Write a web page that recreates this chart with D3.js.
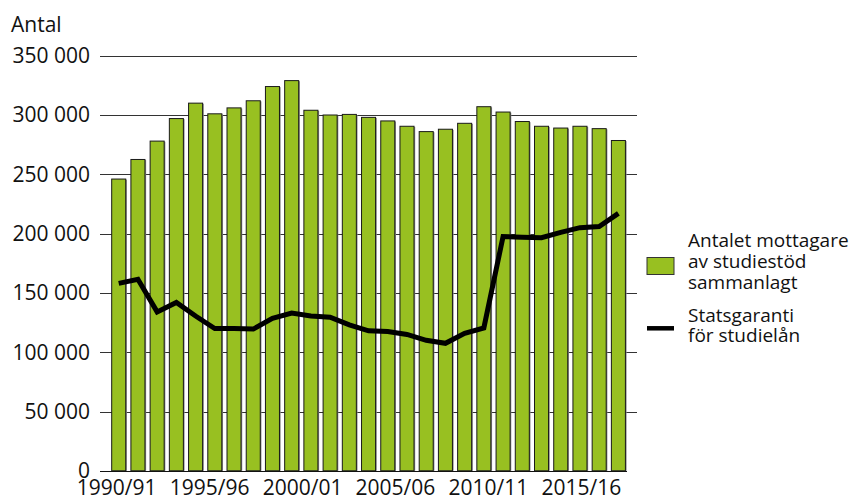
<!DOCTYPE html>
<html>
<head>
<meta charset="utf-8">
<script src="https://cdn.jsdelivr.net/npm/d3@7"></script>
<style>
  body { margin: 0; background: #fff; }
  svg { display: block; }
  text { font-family: "Open Sans", "Noto Sans", sans-serif; fill: #111; }
</style>
</head>
<body>
<svg id="chart" width="862" height="500"></svg>
<script>
// ---- Data ----
const categories = [
  "1990/91","1991/92","1992/93","1993/94","1994/95","1995/96","1996/97","1997/98","1998/99","1999/00",
  "2000/01","2001/02","2002/03","2003/04","2004/05","2005/06","2006/07","2007/08","2008/09","2009/10",
  "2010/11","2011/12","2012/13","2013/14","2014/15","2015/16","2016/17"
];
const totalRecipients = [
  246000, 262500, 278000, 297000, 310000, 301000, 306000, 312000, 324000, 329000,
  304000, 300000, 300500, 298000, 295000, 290500, 286000, 288000, 293000, 307000,
  302500, 294500, 290500, 289000, 290500, 288500, 278500
];
const stateGuarantee = [
  158000, 161500, 134000, 142000, 130500, 120000, 120000, 119500, 128500, 133000,
  130500, 129500, 123000, 118000, 117500, 115000, 110000, 107500, 116000, 120500,
  197500, 197000, 196500, 201000, 205000, 206000, 217000
];
const yTicks = [0, 50000, 100000, 150000, 200000, 250000, 300000, 350000];
const xTickLabels = ["1990/91", "1995/96", "2000/01", "2005/06", "2010/11", "2015/16"];
const legendBarLabel = ["Antalet mottagare", "av studiestöd", "sammanlagt"];
const legendLineLabel = ["Statsgaranti", "för studielån"];
const yTitle = "Antal";

// ---- Layout ----
const svg = d3.select("#chart");
const green = "#98c021";

const x = d3.scaleBand()
  .domain(categories)
  .range([109.1, 628.0])
  .paddingInner(0.27)
  .paddingOuter(0.135);

const y = d3.scaleLinear()
  .domain([0, 350000])
  .range([470.8, 55.7]);

// x tick labels are laid out on their own even spacing in the original
const xLabelPos = d3.scalePoint()
  .domain(xTickLabels)
  .range([116.7, 581.3]);

const fmt = v => d3.format(",")(v).replace(/,/g, " ");

// gridlines
svg.append("g")
  .selectAll("line")
  .data(yTicks.filter(d => d > 0))
  .join("line")
  .attr("x1", 100).attr("x2", 637)
  .attr("y1", d => Math.round(y(d)) + 0.5)
  .attr("y2", d => Math.round(y(d)) + 0.5)
  .attr("stroke", "#333")
  .attr("stroke-width", 1);

// baseline
svg.append("line")
  .attr("x1", 100).attr("x2", 627)
  .attr("y1", Math.round(y(0)) + 0.5).attr("y2", Math.round(y(0)) + 0.5)
  .attr("stroke", "#111").attr("stroke-width", 1.2);

// y labels
svg.append("g")
  .selectAll("text")
  .data(yTicks)
  .join("text")
  .attr("x", 90)
  .attr("y", d => y(d))
  .attr("dy", "0.35em")
  .attr("text-anchor", "end")
  .style("font-size", "21px")
  .text(d => fmt(d));

// y title
svg.append("text")
  .attr("x", 11).attr("y", 32)
  .style("font-size", "21px")
  .text(yTitle);

// bar shadows
svg.append("g")
  .selectAll("rect")
  .data(totalRecipients)
  .join("rect")
  .attr("x", (d, i) => x(categories[i]) + 1.2)
  .attr("y", d => y(d) + 0.6)
  .attr("width", x.bandwidth())
  .attr("height", d => y(0) - y(d) - 0.6)
  .attr("fill", "#8a8a8a");

// bars
svg.append("g")
  .selectAll("rect")
  .data(totalRecipients)
  .join("rect")
  .attr("x", (d, i) => x(categories[i]))
  .attr("y", d => y(d))
  .attr("width", x.bandwidth())
  .attr("height", d => y(0) - y(d))
  .attr("fill", green)
  .attr("stroke", "#1a1a1a")
  .attr("stroke-width", 1);

// line
const line = d3.line()
  .x((d, i) => x(categories[i]) + x.bandwidth() / 2)
  .y(d => y(d));

svg.append("path")
  .datum(stateGuarantee)
  .attr("d", line)
  .attr("fill", "none")
  .attr("stroke", "#000")
  .attr("stroke-width", 5)
  .attr("stroke-linejoin", "miter")
  .attr("stroke-linecap", "butt");

// x labels
svg.append("g")
  .selectAll("text")
  .data(xTickLabels)
  .join("text")
  .attr("x", d => xLabelPos(d))
  .attr("y", 494.5)
  .attr("text-anchor", "middle")
  .style("font-size", "21px")
  .text(d => d);

// legend
const lg = svg.append("g");
lg.append("rect")
  .attr("x", 647).attr("y", 257.5)
  .attr("width", 27).attr("height", 17)
  .attr("fill", green)
  .attr("stroke", "#333").attr("stroke-width", 1);
lg.append("g")
  .selectAll("text")
  .data(legendBarLabel)
  .join("text")
  .attr("x", 688)
  .attr("y", (d, i) => 246.5 + i * 21.3)
  .style("font-size", "19px")
  .text(d => d);

lg.append("line")
  .attr("x1", 647).attr("x2", 674)
  .attr("y1", 328.3).attr("y2", 328.3)
  .attr("stroke", "#000").attr("stroke-width", 4.5);
lg.append("g")
  .selectAll("text")
  .data(legendLineLabel)
  .join("text")
  .attr("x", 688)
  .attr("y", (d, i) => 321.5 + i * 20.5)
  .style("font-size", "19px")
  .text(d => d);
</script>
</body>
</html>
